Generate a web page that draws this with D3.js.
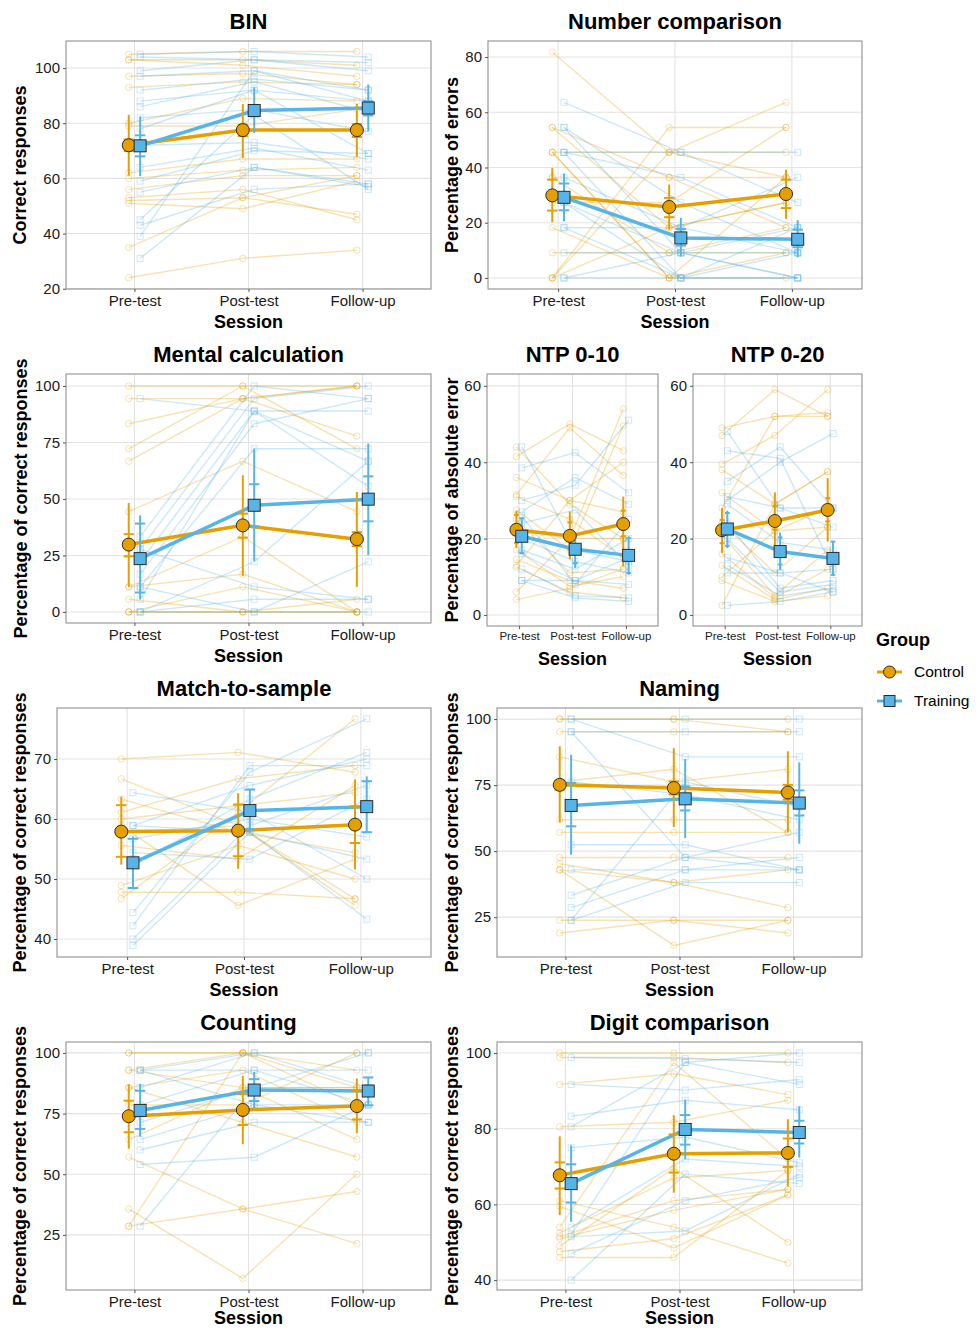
<!DOCTYPE html>
<html>
<head>
<meta charset="utf-8">
<script src="https://cdn.jsdelivr.net/npm/d3@7"></script>
<style>
  body { margin: 0; background: #fff; }
  svg text { font-family: "Liberation Sans", Arial, sans-serif; }
</style>
</head>
<body>
<div class="fig"></div>
<script>
const sessions = ["Pre-test", "Post-test", "Follow-up"];
const groups = ["Control", "Training"];
const groupColors = ["#E69F00", "#56B4E9"];

// each participant: [pre, post, follow-up]
// stats rows per session: [mean, ciLow, ciHigh, seLow, seHigh]

// BIN
const binCtrl = [[105,106,106],[103,103,101],[103,101,97],[97,98,94],[93,95,94],[80,89,88],[79,79,85],[62,67,67],[60,63,64],[56,61,61],[53,56,45],[52,53,47],[51,49,59],[35,53,61],[24,31,34]];
const binTrain = [[105,106,104],[104,103,102],[99,103,99],[97,99,92],[92,96,92],[88,92,88],[86,95,84],[82,85,77],[78,92,69],[72,73,67],[64,71,63],[59,70,69],[55,64,58],[45,83,56],[43,56,58],[39,99,88],[31,64,57]];
const binCtrlStats = [[72,61,83,69.9,74.1],[77.5,67.4,87,75.3,79.5],[77.5,67.8,87,75,79.7]];
const binTrainStats = [[71.8,60.8,82.5,68,75.6],[84.6,76.5,93,82.8,86.4],[85.5,77,94,82.8,88]];

// Number comparison
const ncCtrl = [[81.8,45.5,36.4],[54.5,36.4,18.2],[54.5,18.2,27.3],[45.5,45.5,45.5],[45.5,0,0],[36.4,36.4,36.4],[36.4,9.1,18.2],[27.3,27.3,54.5],[18.2,0,9.1],[9.1,9.1,9.1],[0,45.5,63.6],[0,54.5,54.5],[0,18.2,27.3],[45.5,0,36.4]];
const ncTrain = [[63.6,45.5,27.3],[54.5,27.3,9.1],[54.5,9.1,0],[45.5,45.5,45.5],[45.5,36.4,18.2],[45.5,0,9.1],[36.4,18.2,36.4],[27.3,9.1,9.1],[27.3,0,18.2],[18.2,18.2,9.1],[18.2,0,0],[9.1,9.1,18.2],[0,0,0],[0,9.1,0]];
const ncCtrlStats = [[29.9,20.2,39.8,24.4,35.6],[25.7,17.5,33.8,22,29],[30.4,21.4,39.2,25.3,35.6]];
const ncTrainStats = [[29.2,20.5,37.8,24.5,34.2],[14.5,7.8,21.7,11.7,17.7],[14,7.5,20.9,11.1,17.5]];

// Mental calculation
const mcCtrl = [[100,100,100],[94.4,94.4,77.8],[83.3,94.4,100],[72.2,100,72.2],[66.7,94.4,100],[44.4,66.7,44.4],[11.1,33.3,0],[11.1,16.7,0],[5.6,0,5.6],[0,0,0],[0,0,0],[0,11.1,0]];
const mcTrain = [[94.4,88.9,55.6],[33.3,100,94.4],[27.8,94.4,100],[22.2,88.9,88.9],[16.7,83.3,94.4],[11.1,72.2,72.2],[5.6,88.9,66.7],[27.8,11.1,5.6],[0,5.6,5.6],[0,22.2,66.7],[0,0,0],[11.1,0,22.2]];
const mcCtrlStats = [[29.8,11.1,48.2,24.6,34.4],[38.3,15.9,60.5,32.9,43.5],[32.2,11.1,53.1,29.1,35.3]];
const mcTrainStats = [[23.6,5.5,42.8,8.6,39.1],[47.2,22.4,72.3,37.9,56.5],[49.9,25.1,74.5,40.1,60]];

// NTP 0-10
const ntp10Ctrl = [[44,29,20],[41.5,50,43],[36,30,40],[31.5,49,36.5],[31,25,15],[27.5,17,49.5],[25,11,12],[22,20,54],[17,7.5,10],[14.5,9,7],[13,30,27],[12.5,6,4.5],[6,20,20],[4,7,12]];
const ntp10Train = [[44,17,14],[38.5,42.5,32],[30,34,51],[27,36,29],[24,27.5,13],[20,14,11],[17,12,20],[16,9,8],[12,5,4.5],[9,9,15],[9,4.5,3.5],[26,8,25]];
const ntp10CtrlStats = [[22.3,17.5,27.3,18.8,26.2],[20.7,14.6,27.1,17.1,24.2],[23.8,12.7,31,20.6,27.3]];
const ntp10TrainStats = [[20.6,15.9,25.5,16.2,25.3],[17.2,12.3,19.7,13.6,18.4],[15.6,10.5,20.6,11,20.1]];

// NTP 0-20
const ntp20Ctrl = [[49,52,53],[47,59,52],[39.5,47,59],[38,29,37.5],[32,22,28],[28,52,52],[24,11,23],[21,5,17],[16,4.5,12],[13,4,7],[10,22,23],[9,3.5,5],[2.5,29,37.5]];
const ntp20Train = [[48,28,23],[43,41,12],[35,44,28],[30,40,47.5],[29,19,17],[24,7,9],[20,6,8],[15,11,12],[13,5,7],[11,11,6],[2.5,3.5,6],[31,28,28]];
const ntp20CtrlStats = [[22.2,16.2,28,18.8,24.9],[24.6,15.8,32.1,22.3,28.6],[27.5,19.2,35.8,24.5,30.6]];
const ntp20TrainStats = [[22.5,17.5,27.3,18.1,26.7],[16.6,11.8,21.6,13.2,20.3],[14.8,10.3,19.2,10.5,19.2]];

// Match-to-sample
const mtsCtrl = [[70,71.1,67.8],[66.7,58.9,46.7],[63.3,57.8,54.4],[61.1,66.7,68.9],[58.9,45.6,53.3],[55.6,53.3,65.6],[48.9,55.6,50],[47.8,47.8,46.7],[46.7,61.1,76.7],[57.8,58.9,45.6],[60,62.2,64.4]];
const mtsTrain = [[64.4,61.1,50],[58.9,57.8,43.3],[58.9,65.6,70],[54.4,53.3,63.3],[52.2,63.3,71.1],[44.4,67.8,76.7],[42.2,68.9,68.9],[40,58.9,65.6],[38.9,57.8,53.3],[56.7,60,57]];
const mtsCtrlStats = [[57.9,52.4,63.7,53.7,62.3],[58.06,51.7,64.3,53.8,62.4],[59.06,51.6,66.6,56,62.1]];
const mtsTrainStats = [[52.7,48.3,57.1,48.5,56.7],[61.4,57.7,64.9,58.3,64.9],[62.06,57.7,67.1,57.8,66.3]];

// Naming
const namCtrl = [[100,100,100],[100,100,95.2],[95.2,95.2,95.2],[85.7,76.2,81],[61.9,61.9,61.9],[57.1,57.1,57.1],[47.6,47.6,47.6],[45.2,38.1,28.6],[42.9,38.1,42.9],[23.8,23.8,19],[19,23.8,23.8],[76.2,81,57.1],[42.9,14.3,23.8]];
const namTrain = [[100,100,100],[100,85.7,85.7],[95.2,95.2,95.2],[95.2,47.6,42.9],[76.2,71.4,61.9],[52.4,52.4,42.9],[42.9,42.9,42.9],[33.3,47.6,57.1],[28.6,42.9,47.6],[23.8,38.1,38.1],[23.8,76.2,66.7]];
const namCtrlStats = [[75.1,60.9,89.7,73.2,76.8],[73.9,59.1,89,71.4,76.4],[72.2,57.1,87.8,69.5,75.1]];
const namTrainStats = [[67.3,48.6,86.5,59.4,75.8],[69.8,54.9,84.9,65.4,74.5],[68.2,52.8,83.6,63.5,73]];

// Counting
const cntCtrl = [[100,100,100],[100,100,92.9],[92.9,85.7,85.7],[92.9,100,78.6],[85.7,92.9,71.4],[78.6,78.6,100],[64.3,85.7,64.3],[57.1,35.7,21.4],[35.7,7.1,50],[28.6,35.7,42.9],[28.6,100,85.7],[85.7,71.4,57.1]];
const cntTrain = [[92.9,92.9,92.9],[92.9,100,100],[85.7,100,85.7],[78.6,92.9,78.6],[71.4,85.7,100],[64.3,78.6,71.4],[60,71.4,71.4],[54,57,78.6],[28.6,85.7,85.7],[92.9,78.6,78.6]];
const cntCtrlStats = [[73.9,60.5,87,67.3,80.3],[76.5,62.4,90.6,70.3,83],[78.1,66.9,89.5,72.6,84.7]];
const cntTrainStats = [[76.3,65.5,87.2,68.7,84.4],[84.7,77.2,92.2,80.2,89.2],[84.3,78.1,89.9,78.4,89.9]];

// Digit comparison
const dcCtrl = [[100,100,100],[98.8,98.8,97.5],[91.7,94.5,89],[80.5,81.7,87.5],[61,54,44.5],[59.5,48.5,62.5],[54,97.5,72],[52.5,67,69],[51.5,61,64],[49,69.5,50],[47.5,51,62.5],[46,46,69],[51,58.5,64]];
const dcTrain = [[98.8,98.5,97.5],[91.7,90.2,93],[83.3,87.5,85],[80.5,97.5,91.7],[75,77.8,71],[54,72,70],[51.5,53,68],[47,61,67],[40,68,65.5],[52,97.5,100]];
const dcCtrlStats = [[67.7,57.2,78,64.2,71.1],[73.4,63.1,83.6,68.4,78.5],[73.6,64.8,82.5,69.9,77.4]];
const dcTrainStats = [[65.5,55.4,75.6,60.5,70.6],[79.8,71.9,87.7,75.8,83.6],[79,72.4,85.9,76.1,82.1]];

const yTicks100 = [0, 25, 50, 75, 100];

const width = 980, height = 1330;
const svg = d3.select(".fig").append("svg")
  .attr("width", width)
  .attr("height", height)
  .attr("viewBox", `0 0 ${width} ${height}`);

const panels = [
  {title: "BIN", yLabel: "Correct responses", labelX: 20, box: [66, 431, 41, 289],
   yDomain: [19.9, 109.8], yTicks: [20, 40, 60, 80, 100], ctrl: binCtrl, train: binTrain, ctrlStats: binCtrlStats, trainStats: binTrainStats},
  {title: "Number comparison", yLabel: "Percentage of errors", labelX: 452, box: [488, 862, 41, 289],
   yDomain: [-4.0, 85.8], yTicks: [0, 20, 40, 60, 80], ctrl: ncCtrl, train: ncTrain, ctrlStats: ncCtrlStats, trainStats: ncTrainStats},
  {title: "Mental calculation", yLabel: "Percentage of correct responses", labelX: 21, box: [66, 431, 374, 623],
   yDomain: [-4.9, 105.3], yTicks: yTicks100, ctrl: mcCtrl, train: mcTrain, ctrlStats: mcCtrlStats, trainStats: mcTrainStats},
  {title: "NTP 0-10", yLabel: "Percentage of absolute error", labelX: 452, box: [487, 658, 374, 626], small: true,
   yDomain: [-2.9, 63.1], yTicks: [0, 20, 40, 60], ctrl: ntp10Ctrl, train: ntp10Train, ctrlStats: ntp10CtrlStats, trainStats: ntp10TrainStats},
  {title: "NTP 0-20", yLabel: null, box: [693, 862, 374, 626], small: true,
   yDomain: [-2.9, 63.1], yTicks: [0, 20, 40, 60], ctrl: ntp20Ctrl, train: ntp20Train, ctrlStats: ntp20CtrlStats, trainStats: ntp20TrainStats},
  {title: "Match-to-sample", yLabel: "Percentage of correct responses", labelX: 20, box: [57, 431, 708, 957],
   yDomain: [37.0, 78.5], yTicks: [40, 50, 60, 70], ctrl: mtsCtrl, train: mtsTrain, ctrlStats: mtsCtrlStats, trainStats: mtsTrainStats},
  {title: "Naming", yLabel: "Percentage of correct responses", labelX: 452, box: [497, 862, 708, 957],
   yDomain: [9.9, 104.2], yTicks: [25, 50, 75, 100], ctrl: namCtrl, train: namTrain, ctrlStats: namCtrlStats, trainStats: namTrainStats},
  {title: "Counting", yLabel: "Percentage of correct responses", labelX: 20, box: [66, 431, 1042, 1290],
   yDomain: [2.3, 104.5], yTicks: [25, 50, 75, 100], ctrl: cntCtrl, train: cntTrain, ctrlStats: cntCtrlStats, trainStats: cntTrainStats},
  {title: "Digit comparison", yLabel: "Percentage of correct responses", labelX: 452, box: [497, 862, 1042, 1290],
   yDomain: [37.4, 102.9], yTicks: [40, 60, 80, 100], ctrl: dcCtrl, train: dcTrain, ctrlStats: dcCtrlStats, trainStats: dcTrainStats},
];

const dodge = [-0.05, 0.05];

function drawPanel(p) {
  const [x0, x1, y0, y1] = p.box;
  const xScale = d3.scaleLinear().domain([0.4, 3.6]).range([x0, x1]);
  const yScale = d3.scaleLinear().domain(p.yDomain).range([y1, y0]);
  const g = svg.append("g");

  // grid
  g.append("g").selectAll("line")
    .data(p.yTicks)
    .enter().append("line")
    .attr("x1", x0).attr("x2", x1)
    .attr("y1", d => yScale(d)).attr("y2", d => yScale(d))
    .attr("stroke", "#e3e3e3").attr("stroke-width", 1.1)
  g.append("g").selectAll("line")
    .data([1, 2, 3])
    .enter().append("line")
    .attr("x1", d => xScale(d)).attr("x2", d => xScale(d))
    .attr("y1", y0).attr("y2", y1)
    .attr("stroke", "#e3e3e3").attr("stroke-width", 1.1)

  // participants
  const sets = [p.ctrl, p.train];
  sets.forEach((rows, gi) => {
    const col = groupColors[gi];
    const lineGen = d3.line()
      .x((d, i) => xScale(i + 1 + dodge[gi]))
      .y(d => yScale(d));
    g.append("g").selectAll("path")
      .data(rows)
      .enter().append("path")
      .attr("d", lineGen)
      .attr("fill", "none")
      .attr("stroke", col)
      .attr("stroke-opacity", 0.3)
      .attr("stroke-width", 1.4)
    const pts = rows.flatMap(r => r.map((v, i) => ({v, i})));
    if (gi === 0) {
      g.append("g").selectAll("circle")
        .data(pts)
        .enter().append("circle")
        .attr("cx", d => xScale(d.i + 1 + dodge[gi]))
        .attr("cy", d => yScale(d.v))
        .attr("r", 3.2)
        .attr("fill", "none")
        .attr("stroke", col)
        .attr("stroke-opacity", 0.3)
    } else {
      g.append("g").selectAll("rect")
        .data(pts)
        .enter().append("rect")
        .attr("x", d => xScale(d.i + 1 + dodge[gi]) - 3)
        .attr("y", d => yScale(d.v) - 3)
        .attr("width", 6).attr("height", 6)
        .attr("fill", "none")
        .attr("stroke", col)
        .attr("stroke-opacity", 0.3)
    }
  });

  // group means
  const capHalf = (xScale(1.045) - xScale(1));
  [p.ctrlStats, p.trainStats].forEach((stats, gi) => {
    const col = groupColors[gi];
    const lineGen = d3.line()
      .x((d, i) => xScale(i + 1 + dodge[gi]))
      .y(d => yScale(d[0]));
    g.append("path")
      .attr("d", lineGen(stats))
      .attr("fill", "none")
      .attr("stroke", col)
      .attr("stroke-width", 3.5)
  });
  [p.ctrlStats, p.trainStats].forEach((stats, gi) => {
    const col = groupColors[gi];
    const bars = g.append("g").selectAll("g")
      .data(stats)
      .enter().append("g")
    bars.append("line")
      .attr("x1", (d, i) => xScale(i + 1 + dodge[gi]))
      .attr("x2", (d, i) => xScale(i + 1 + dodge[gi]))
      .attr("y1", d => yScale(d[1]))
      .attr("y2", d => yScale(d[2]))
      .attr("stroke", col).attr("stroke-width", 2)
    bars.append("line")
      .attr("x1", (d, i) => xScale(i + 1 + dodge[gi]) - capHalf)
      .attr("x2", (d, i) => xScale(i + 1 + dodge[gi]) + capHalf)
      .attr("y1", d => yScale(d[3]))
      .attr("y2", d => yScale(d[3]))
      .attr("stroke", col).attr("stroke-width", 2)
    bars.append("line")
      .attr("x1", (d, i) => xScale(i + 1 + dodge[gi]) - capHalf)
      .attr("x2", (d, i) => xScale(i + 1 + dodge[gi]) + capHalf)
      .attr("y1", d => yScale(d[4]))
      .attr("y2", d => yScale(d[4]))
      .attr("stroke", col).attr("stroke-width", 2)
  });
  [p.ctrlStats, p.trainStats].forEach((stats, gi) => {
    const col = groupColors[gi];
    if (gi === 0) {
      g.append("g").selectAll("circle")
        .data(stats)
        .enter().append("circle")
        .attr("cx", (d, i) => xScale(i + 1 + dodge[gi]))
        .attr("cy", d => yScale(d[0]))
        .attr("r", 6.5)
        .attr("fill", col)
        .attr("stroke", "#2b2b2b").attr("stroke-width", 1)
    } else {
      g.append("g").selectAll("rect")
        .data(stats)
        .enter().append("rect")
        .attr("x", (d, i) => xScale(i + 1 + dodge[gi]) - 6)
        .attr("y", d => yScale(d[0]) - 6)
        .attr("width", 12).attr("height", 12)
        .attr("fill", col)
        .attr("stroke", "#2b2b2b").attr("stroke-width", 1)
    }
  });

  // border
  g.append("rect")
    .attr("x", x0).attr("y", y0)
    .attr("width", x1 - x0).attr("height", y1 - y0)
    .attr("fill", "none")
    .attr("stroke", "#9a9a9a").attr("stroke-width", 1.2)

  // axes
  const xAxis = g.append("g")
    .attr("transform", `translate(0, ${y1})`)
    .call(d3.axisBottom(xScale).tickValues([1, 2, 3]).tickFormat(d => sessions[d - 1]).tickSize(3).tickPadding(3))
  const yAxis = g.append("g")
    .attr("transform", `translate(${x0}, 0)`)
    .call(d3.axisLeft(yScale).tickValues(p.yTicks).tickSize(3).tickPadding(3))
  ;[xAxis, yAxis].forEach(a => {
    a.select(".domain").remove()
    a.selectAll(".tick line").attr("stroke", "#555")
    a.selectAll("text").attr("fill", "#1a1a1a").style("font-family", '"Liberation Sans", Arial, sans-serif')
  });
  xAxis.selectAll("text").style("font-size", p.small ? "11.5px" : "15px")
  yAxis.selectAll("text").style("font-size", "15px")

  // titles
  g.append("text")
    .attr("x", (x0 + x1) / 2)
    .attr("y", y0 - 12)
    .attr("text-anchor", "middle")
    .style("font-size", "22px").style("font-weight", "bold")
    .text(p.title)
  g.append("text")
    .attr("x", (x0 + x1) / 2)
    .attr("y", Math.min(y1 + 39, height - 6))
    .attr("text-anchor", "middle")
    .style("font-size", "18px").style("font-weight", "bold")
    .text("Session")
  if (p.yLabel) {
    g.append("text")
      .attr("transform", `translate(${p.labelX + 6}, ${(y0 + y1) / 2}) rotate(-90)`)
      .attr("text-anchor", "middle")
      .style("font-size", "18px").style("font-weight", "bold")
      .text(p.yLabel)
  }
}

panels.forEach(drawPanel);

// legend
const legend = svg.append("g")
legend.append("text")
  .attr("x", 876).attr("y", 646)
  .style("font-size", "18px").style("font-weight", "bold")
  .text("Group")
const keys = legend.selectAll("g.key")
  .data(groups)
  .enter().append("g")
  .attr("transform", (d, i) => `translate(0, ${672 + i * 29})`)
keys.append("line")
  .attr("x1", 877).attr("x2", 902)
  .attr("stroke", (d, i) => groupColors[i]).attr("stroke-width", 3)
keys.filter((d, i) => i === 0).append("circle")
  .attr("cx", 889.5).attr("r", 6)
  .attr("fill", groupColors[0]).attr("stroke", "#2b2b2b")
keys.filter((d, i) => i === 1).append("rect")
  .attr("x", 884).attr("y", -5.5).attr("width", 11).attr("height", 11)
  .attr("fill", groupColors[1]).attr("stroke", "#2b2b2b")
keys.append("text")
  .attr("x", 914).attr("y", 5)
  .style("font-size", "15.5px")
  .text(d => d)
</script>
</body>
</html>
